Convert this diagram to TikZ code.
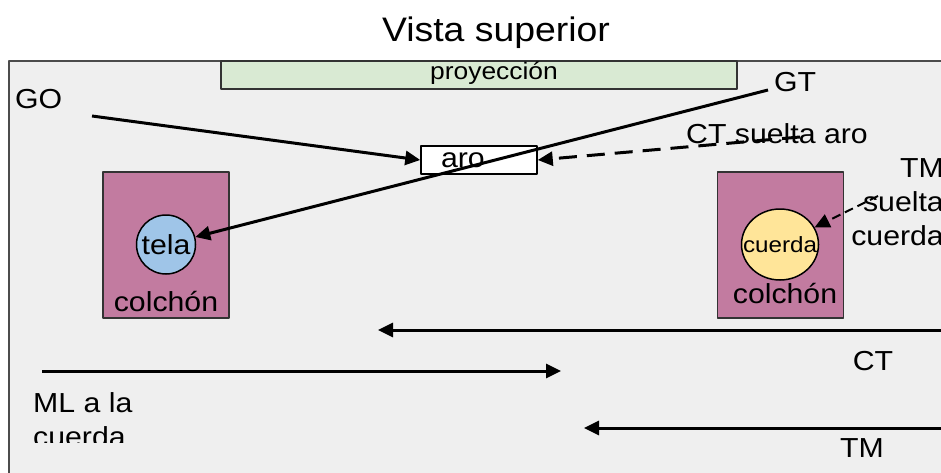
\documentclass[tikz,border=0pt]{standalone}
\usepackage{fontspec}
\setmainfont{Liberation Sans}[FakeStretch=1.1]
\usetikzlibrary{arrows.meta,shapes.geometric}
\definecolor{fondo}{HTML}{EFEFEF}
\definecolor{verdeproy}{HTML}{D9EAD3}
\definecolor{malva}{HTML}{C27BA0}
\definecolor{azultela}{HTML}{9FC5E8}
\definecolor{amarillo}{HTML}{FFE599}
\begin{document}
\begin{tikzpicture}[x=1pt, y=-1pt, line join=round, font=\fontsize{27.5}{34}\selectfont, >={Triangle[length=15pt,width=14pt]},
		colchon/.style={draw=black!80, line width=1.5pt, fill=malva, minimum width=126pt, minimum height=146pt, inner sep=0pt},
		flecha/.style={->, line width=3pt},
		txt/.style={inner sep=0pt}]
			\useasboundingbox (0,0) rectangle (941,473);
			\clip (0,0) rectangle (941,473);
			\node[txt, font=\fontsize{34}{40}\selectfont] (titulo) at (496,33) {Vista superior};
			\draw[fill=fondo, draw=black!70, line width=1.5pt] (9,61) rectangle (990,510);
			\node[draw=black!80, line width=1.5pt, fill=verdeproy, minimum width=516pt, minimum height=28pt, inner sep=0pt] (proy) at (479,75) {};
			\node[txt, font=\fontsize{24}{28}\selectfont] (proyt) at (494,73) {proyección};
			\node[draw=black, line width=1.5pt, fill=white, minimum height=28pt, inner ysep=0pt, inner xsep=20pt, text width=76pt, align=left] (aro) at (479,160) {aro};
			\node[colchon] (colchonA) at (166,245) {};
			\node[colchon] (colchonB) at (780.5,245) {};
			\node[circle, draw=black, line width=1.5pt, fill=azultela, minimum size=59pt, inner sep=0pt] (tela) at (166,244.5) {tela};
			\node[ellipse, draw=black, line width=1.5pt, fill=amarillo, minimum width=77pt, minimum height=71pt, inner sep=0pt, label={[txt, font=\fontsize{22}{26}\selectfont]center:cuerda}] (cuerda) at (780,244.5) {};
			\node[txt] (colchonAt) at (166,302) {colchón};
			\node[txt] (colchonBt) at (785,294) {colchón};
			\node[txt, anchor=west] (go) at (15,99) {GO};
			\node[txt] (gt) at (795,82) {GT};
			\node[txt] (ctsuelta) at (777,134) {CT suelta aro};
			\node[txt, anchor=north east, align=right] (tmsuelta) at (944,158) {TM\\suelta\\cuerda};
			\node[txt] (ct) at (873,361) {CT};
			\node[txt] (tm) at (862,448) {TM};
			\begin{scope}
				\clip (0,0) rectangle (941,442);
				\node[txt, anchor=north west, align=left] (ml) at (33,392) {ML a la\\cuerda};
			\end{scope}
			\coordinate (go0) at (92,116);
			\coordinate (gt0) at (768,90);
			\coordinate (cts0) at (800,137);
			\coordinate (tms0) at (878,196);
			\coordinate (ct0) at (960,330);
			\coordinate (ct1) at (378,330);
			\coordinate (ml0) at (42,371);
			\coordinate (ml1) at (561,371);
			\coordinate (tm0) at (960,428);
			\coordinate (tm1) at (584,428);
			\draw[flecha] (go0) -- (aro.west);
			\draw[flecha] (gt0) -- (tela);
			\draw[flecha, dash pattern=on 18pt off 10pt] (cts0) -- (aro.east);
			\draw[->, line width=2pt, dash pattern=on 9pt off 5pt] (tms0) -- (cuerda);
			\draw[flecha] (ct0) -- (ct1);
			\draw[flecha] (ml0) -- (ml1);
			\draw[flecha] (tm0) -- (tm1);
		\end{tikzpicture}
\end{document}
